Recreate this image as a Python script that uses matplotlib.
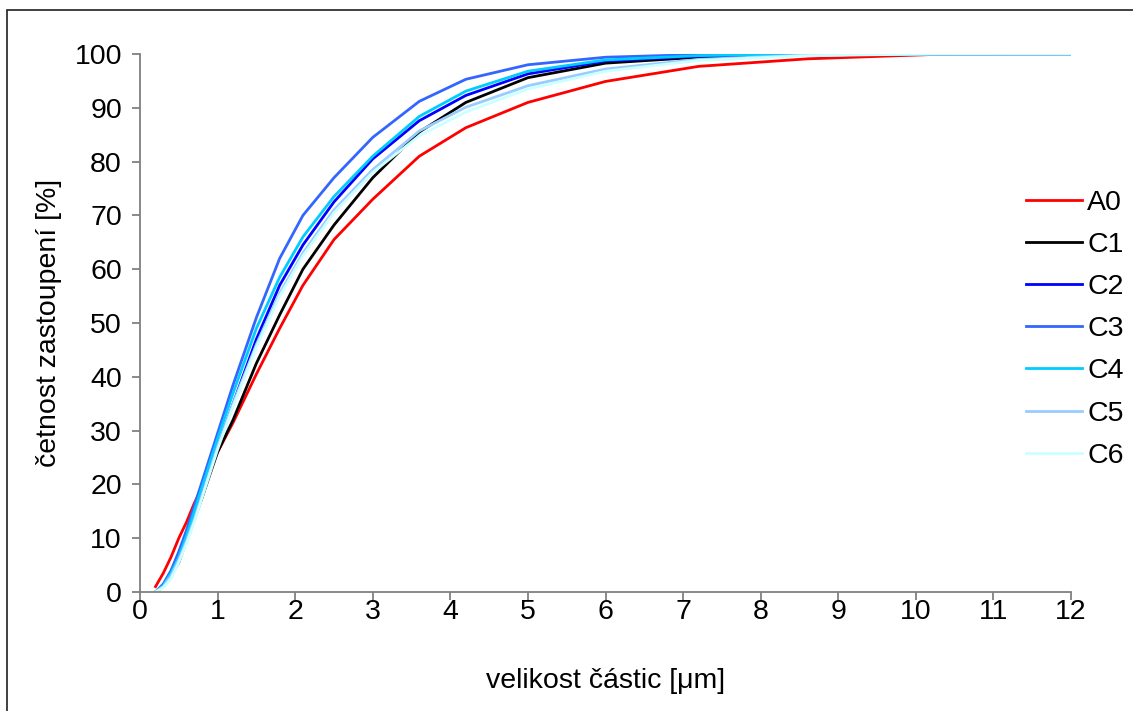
import matplotlib as mpl
mpl.use('Agg')
import matplotlib.pyplot as plt
from matplotlib.patches import Rectangle

plt.rcParams['font.family'] = ['Liberation Sans', 'DejaVu Sans']

# particle size classes [um]
size = [0.2, 0.3, 0.4, 0.5, 0.6, 0.7, 0.8, 0.9, 1.0, 1.2, 1.5, 1.8, 2.1,
        2.5, 3.0, 3.6, 4.2, 5.0, 6.0, 7.2, 8.6, 10.2, 12.0]

# cumulative frequency [%]
A0 = [1.0, 3.5, 6.5, 10.0, 13.0, 16.5, 19.5, 22.8, 26.0, 31.5, 40.5, 49.0, 57.0,
      65.5, 73.0, 81.0, 86.3, 91.0, 94.9, 97.7, 99.1, 99.9, 100.0]
C1 = [0.0, 1.0, 3.0, 5.5, 9.5, 13.5, 17.5, 21.8, 26.0, 32.0, 42.5, 51.5, 60.0,
      68.2, 77.0, 85.5, 91.0, 95.6, 98.3, 99.4, 99.9, 100.0, 100.0]
C2 = [0.0, 1.0, 3.0, 6.0, 9.5, 13.5, 18.0, 22.5, 27.0, 35.0, 47.0, 57.0, 64.5,
      72.5, 80.5, 87.6, 92.3, 96.3, 98.7, 99.6, 100.0, 100.0, 100.0]
C3 = [0.0, 1.5, 4.0, 7.5, 11.5, 16.0, 20.5, 25.0, 29.5, 38.5, 51.0, 62.0, 70.0,
      77.0, 84.5, 91.2, 95.3, 98.0, 99.4, 99.9, 100.0, 100.0, 100.0]
C4 = [0.0, 1.2, 3.5, 6.5, 10.5, 15.0, 19.5, 24.0, 28.5, 37.0, 49.0, 58.5, 66.0,
      73.5, 81.0, 88.4, 93.1, 96.8, 98.9, 99.7, 100.0, 100.0, 100.0]
C5 = [0.0, 1.0, 3.0, 6.0, 9.5, 13.5, 18.0, 22.5, 27.0, 35.0, 46.0, 55.5, 63.0,
      71.0, 78.5, 85.7, 90.1, 94.1, 97.2, 99.0, 99.8, 100.0, 100.0]
C6 = [0.0, 0.8, 2.5, 5.5, 9.0, 13.0, 17.5, 22.0, 26.5, 34.5, 45.5, 55.0, 62.5,
      70.5, 78.0, 84.8, 89.2, 93.5, 96.8, 98.8, 99.7, 100.0, 100.0]

names = ['A0', 'C1', 'C2', 'C3', 'C4', 'C5', 'C6']
series = [A0, C1, C2, C3, C4, C5, C6]
colors = ['#FF0000', '#000000', '#0000FF', '#3366FF', '#00CCFF', '#99CCFF', '#CCFFFF']

fs = 20.5

fig = plt.figure(figsize=(11.33, 7.11), dpi=100)
ax = fig.add_axes([140/1133, 119/711, 931/1133, 538/711])

for name, vals, col in zip(names, series, colors):
    ax.plot(size, vals, color=col, lw=2.0, label=name)

ax.set_xlim(0, 12)
ax.set_ylim(0, 100)
ax.set_xticks(range(0, 13))
ax.set_yticks(range(0, 101, 10))

for s in ['top', 'right']:
    ax.spines[s].set_visible(False)
for s in ['left', 'bottom']:
    ax.spines[s].set_color('#808080')
    ax.spines[s].set_linewidth(1.3)
ax.tick_params(axis='both', direction='out', length=6, width=1.3,
               color='#808080', labelsize=fs, labelcolor='black')
ax.tick_params(axis='y', pad=7)
ax.tick_params(axis='x', pad=-1)

ax.set_xlabel('velikost částic [μm]', fontsize=fs)
ax.set_ylabel('četnost zastoupení [%]', fontsize=fs)
ax.xaxis.set_label_coords(0.5, -0.141)
ax.yaxis.set_label_coords(-0.084, 0.5)

ax.legend(loc='center left', bbox_to_anchor=(1026/1133, 0.537),
          bbox_transform=fig.transFigure, frameon=False, fontsize=fs,
          handlelength=1.95, handletextpad=0.2, labelspacing=0.57,
          borderpad=0, borderaxespad=0)

# chart area border
fig.patches.append(Rectangle((7/1133, -0.05), 1.1, (711-10)/711 + 0.05,
                             transform=fig.transFigure, fill=False,
                             edgecolor='#202020', lw=1.2))

fig.savefig('out.png', dpi=100)
